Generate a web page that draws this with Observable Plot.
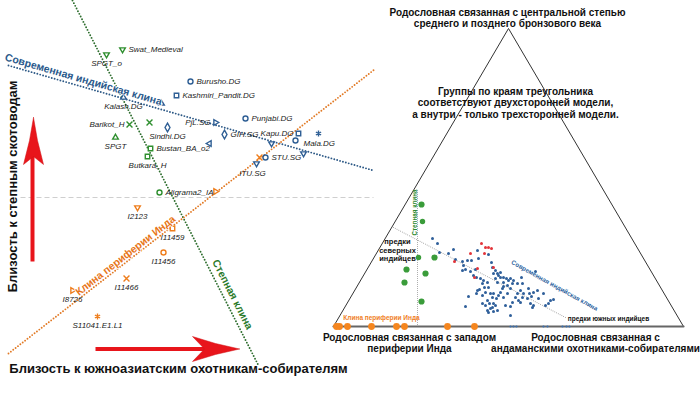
<!DOCTYPE html>
<html><head><meta charset="utf-8">
<script src="https://cdn.jsdelivr.net/npm/d3@7"></script>
<script src="https://cdn.jsdelivr.net/npm/@observablehq/plot@0.6"></script>
<style>body{margin:0;background:#fff}#chart{width:700px;height:393px}</style>
</head><body><div id="chart"></div>
<script>
// ---------- LEFT PANEL: PCA-like projection (figure units) ----------
const leftSamples = [
  {name:"Swat_Medieval", group:"steppe", shape:"triangleDown", x:122, y:49, label:"right"},
  {name:"SPGT_o", group:"steppe", shape:"triangleDown", x:106, y:54, label:"below"},
  {name:"Burusho.DG", group:"indian", shape:"circle", x:190, y:81, label:"right"},
  {name:"Kashmiri_Pandit.DG", group:"indian", shape:"square", x:176, y:95, label:"right"},
  {name:"", group:"indian", shape:"triangle", x:161, y:103, label:"none"},
  {name:"Kalash.DG", group:"indian", shape:"triangle", x:123, y:97, label:"below"},
  {name:"Barikot_H", group:"steppe", shape:"times", x:129, y:124, label:"left"},
  {name:"", group:"steppe", shape:"times", x:149, y:122, label:"none"},
  {name:"Sindhi.DG", group:"indian", shape:"diamond", x:167, y:127, label:"below"},
  {name:"PjL.SG", group:"indian", shape:"triangleRight", x:215, y:122, label:"left"},
  {name:"Punjabi.DG", group:"indian", shape:"circle", x:245, y:118, label:"right"},
  {name:"GIH.SG", group:"indian", shape:"diamond", x:224, y:134, label:"right"},
  {name:"", group:"indian", shape:"triangleLeft", x:209, y:143, label:"none"},
  {name:"SPGT", group:"steppe", shape:"triangle", x:115, y:137, label:"below"},
  {name:"Bustan_BA_o2", group:"steppe", shape:"square", x:150, y:148, label:"right"},
  {name:"Butkara_H", group:"steppe", shape:"square", x:147, y:156, label:"below"},
  {name:"Kapu.DG", group:"indian", shape:"square", x:298, y:133, label:"left"},
  {name:"", group:"indian", shape:"circle", x:295, y:140, label:"none"},
  {name:"Mala.DG", group:"indian", shape:"asterisk", x:318, y:133, label:"belowLeft"},
  {name:"", group:"indian", shape:"triangleDown", x:271, y:143, label:"none"},
  {name:"", group:"indian", shape:"triangleDown", x:303, y:153, label:"none"},
  {name:"", group:"periphery", shape:"times", x:259, y:157, label:"none"},
  {name:"STU.SG", group:"indian", shape:"circle", x:265, y:157, label:"right"},
  {name:"ITU.SG", group:"indian", shape:"triangleDown", x:256, y:163, label:"belowLeft2"},
  {name:"Aligrama2_IA", group:"steppe", shape:"circle", x:159, y:192, label:"right"},
  {name:"", group:"periphery", shape:"triangleRight", x:215, y:191, label:"none"},
  {name:"I2123", group:"periphery", shape:"triangleDown", x:137, y:207, label:"below"},
  {name:"I11459", group:"periphery", shape:"square", x:172, y:228, label:"below"},
  {name:"I11456", group:"periphery", shape:"circle", x:163, y:252, label:"below"},
  {name:"I11466", group:"periphery", shape:"times", x:126, y:278, label:"below"},
  {name:"I8726", group:"periphery", shape:"triangleRight", x:72, y:290, label:"below"},
  {name:"S11041.E1.L1", group:"periphery", shape:"asterisk", x:97, y:316, label:"below"}
];
const steppeCline = [{x:72, y:0}, {x:258, y:365}];
const indianCline = [{x:8, y:65}, {x:373, y:170}];
const peripheryCline = [{x:8, y:353}, {x:374, y:69}];
const zeroLine = [{x:20, y:197}, {x:373, y:197}];
const clineLabels = [
  {text:"Современная индийская клина", group:"indian", x:83, y:79, line:"indian"},
  {text:"Клина периферии Инда", group:"periphery", x:125, y:255, line:"periphery"},
  {text:"Степная клина", group:"steppe", x:232, y:294, line:"steppe"}
];
const axisTitles = [
  {text:"Близость к степным скотоводам", x:12, y:186, rotate:-90},
  {text:"Близость к южноазиатским охотникам-собирателям", x:178, y:368, rotate:0}
];
const arrowShafts = [
  [{x:32, y:261}, {x:32, y:150}],
  [{x:95, y:348.5}, {x:208, y:348.5}]
];
const upHead = [{x:33,y:117},{x:37,y:140},{x:43,y:164},{x:33,y:156},{x:23,y:164},{x:29,y:140},{x:33,y:117}];
const rightHead = [{x:239,y:348.5},{x:215,y:343},{x:192,y:336},{x:204,y:348.5},{x:192,y:361},{x:215,y:354},{x:239,y:348.5}];

// ---------- RIGHT PANEL: ternary admixture plot (figure units) ----------
const triangleCorners = [{x:333, y:326}, {x:508, y:28}, {x:683, y:326}, {x:333, y:326}];
const triangleBase = [{x:333, y:326}, {x:683, y:326}];
const northSouthLine = [{x:393, y:227}, {x:565, y:317}];
const steppeVertical = [{x:417, y:190}, {x:417, y:326}];
const steppeGroups = [
  {x:421, y:204, big:true}, {x:422, y:221, big:false}, {x:418, y:257, big:false},
  {x:434, y:257, big:true}, {x:406, y:269, big:true}, {x:425, y:273, big:true},
  {x:404, y:282, big:true}, {x:421, y:301, big:true}
];
const peripheryGroups = [336, 339, 347, 371, 396, 404, 447, 474];
const baseTicks = [510, 513, 516, 543, 547, 562, 566, 569];
const redGroups = [
  [481,243],[485,247],[488,247],[491,248],[484,253],[470,253],[454,261],[477,268],[493,267],[474,277]
];
const modernIndians = [
  [432,238],[437,243],[439,252],[448,253],[453,249],[455,259],[462,261],[467,260],[463,265],[471,260],
  [477,250],[478,258],[465,269],[470,271],[475,269],[473,275],[476,277],[480,278],[482,283],[483,280],
  [477,290],[476,293],[479,289],[468,296],[465,306],[482,303],[485,305],[487,310],[488,312],[490,308],
  [492,307],[493,303],[495,305],[497,310],[493,311],[489,303],[487,300],[496,298],[498,295],[500,292],
  [502,288],[503,286],[497,282],[495,278],[498,275],[500,272],[497,273],[493,273],[495,270],[492,267],
  [500,277],[503,277],[506,278],[508,280],[510,278],[512,283],[503,282],[507,285],[510,288],[507,293],
  [503,297],[505,305],[510,306],[512,302],[510,315],[515,297],[518,300],[520,302],[522,297],[523,293],
  [520,290],[517,293],[521,277],[522,283],[527,298],[530,303],[532,307],[533,305],[528,288],[529,293],
  [531,296],[533,292],[537,290],[538,298],[543,293],[545,305],[550,300],[553,299],[548,303],[535,271],
  [517,283],[513,280],[482,295],[485,292],[490,293],[492,297],[493,293],[488,287],[484,287],[487,282],
  [462,270],[488,254],[491,262]
];
const rightTexts = [
  {lines:["Родословная связанная с центральной степью","среднего и позднего бронзового века"], x:507, y:12, size:10, color:"#111"},
  {lines:["Группы по краям треугольника","соответствуют двухсторонней модели,","а внутри - только трехсторонней модели."], x:515, y:91, size:10, color:"#111"},
  {lines:["Родословная связанная с западом","периферии Инда"], x:409, y:337, size:10, color:"#111"},
  {lines:["Родословная связанная с","андаманскими охотниками-собирателями"], x:595, y:337, size:10, color:"#111"},
  {lines:["предки","северных","индийцев"], x:397, y:241, size:7.5, color:"#111"},
  {lines:["предки южных индийцев"], x:608, y:318, size:6.5, color:"#111"},
  {lines:["Клина периферии Инда"], x:381, y:317, size:6.5, color:"#f07f1f"}
];
const rightClineLabels = [
  {text:"Степная клина", x:414, y:212, rotate:-90, color:"#2e8a2e"},
  {text:"Современная индийская клина", x:554, y:285, rotate:29, color:"#2f65a0"}
];

// ---------- styling ----------
const colors = {steppe:"#2f8f2f", indian:"#2f5f95", periphery:"#ee7d1c"};
const lineColors = {steppe:"#2e6e2e", indian:"#2d5986", periphery:"#e27a25"};
const textColors = {steppe:"#2a7a2a", indian:"#2b5a8c", periphery:"#e8761a"};
const shapeDefs = {
  circle:{symbol:"circle", rotate:0, r:2.5},
  square:{symbol:"square", rotate:0, r:2.5},
  diamond:{symbol:"diamond", rotate:0, r:2.6},
  triangle:{symbol:"triangle", rotate:0, r:2.1},
  triangleDown:{symbol:"triangle", rotate:180, r:2.1},
  triangleRight:{symbol:"triangle", rotate:90, r:2.1},
  triangleLeft:{symbol:"triangle", rotate:-90, r:2.1},
  times:{symbol:"times", rotate:0, r:2.8},
  asterisk:{symbol:"asterisk", rotate:0, r:2.8}
};
const labelOffsets = {
  right:{dx:6, dy:0, anchor:"start"},
  left:{dx:-5, dy:0, anchor:"end"},
  below:{dx:0, dy:9, anchor:"middle"},
  belowLeft:{dx:-15, dy:10, anchor:"start"},
  belowLeft2:{dx:-4, dy:10, anchor:"middle"}
};
const lines = {steppe:steppeCline, indian:indianCline, periphery:peripheryCline};
function angleOf(l) { return Math.atan2(l[1].y - l[0].y, l[1].x - l[0].x) * 180 / Math.PI; }

const marks = [];
// zero line
marks.push(Plot.line(zeroLine, {x:"x", y:"y", stroke:"#cfcfcf", strokeWidth:1, strokeDasharray:"5 3", strokeLinecap:"butt"}));
// clines (round dots)
for (const g of ["steppe","indian","periphery"]) {
  marks.push(Plot.line(lines[g], {x:"x", y:"y", stroke:lineColors[g], strokeWidth:1.9, strokeDasharray:"0 3", strokeLinecap:"round"}));
}
// samples
for (const [shape, def] of Object.entries(shapeDefs)) {
  const subset = leftSamples.filter(d => d.shape === shape);
  marks.push(Plot.dot(subset, {x:"x", y:"y", symbol:def.symbol, r:def.r, rotate:def.rotate,
    stroke:d => colors[d.group], fill:"white", strokeWidth:1.4}));
}
for (const [pos, off] of Object.entries(labelOffsets)) {
  const subset = leftSamples.filter(d => d.label === pos);
  marks.push(Plot.text(subset, {x:"x", y:"y", text:"name", dx:off.dx, dy:off.dy, textAnchor:off.anchor,
    fontSize:8, fontStyle:"italic", fill:"#222"}));
}
// cline labels
for (const c of clineLabels) {
  marks.push(Plot.text([c], {x:"x", y:"y", text:"text", rotate:angleOf(lines[c.line]), fontSize:10.5,
    fontWeight:"bold", fill:textColors[c.group], stroke:"white", strokeWidth:1.5, paintOrder:"stroke"}));
}
// axis titles
for (const t of axisTitles) {
  marks.push(Plot.text([t], {x:"x", y:"y", text:"text", rotate:t.rotate, fontSize:13, fontWeight:"bold", fill:"#111"}));
}
// red arrows
for (const s of arrowShafts) marks.push(Plot.line(s, {x:"x", y:"y", stroke:"#e8151b", strokeWidth:4, strokeLinecap:"butt"}));
marks.push(Plot.line(upHead, {x:"x", y:"y", fill:"#e8151b", stroke:"#d01015", strokeWidth:0.5}));
marks.push(Plot.line(rightHead, {x:"x", y:"y", fill:"#e8151b", stroke:"#d01015", strokeWidth:0.5}));

// right panel
marks.push(Plot.line(triangleCorners, {x:"x", y:"y", stroke:"#333", strokeWidth:1}));
marks.push(Plot.line(triangleBase, {x:"x", y:"y", stroke:"#666", strokeWidth:2.2}));
marks.push(Plot.line(northSouthLine, {x:"x", y:"y", stroke:"#9a9a9a", strokeWidth:1, strokeDasharray:"0 2", strokeLinecap:"round"}));
marks.push(Plot.line(steppeVertical, {x:"x", y:"y", stroke:"#9a9a9a", strokeWidth:1, strokeDasharray:"0 2", strokeLinecap:"round"}));
marks.push(Plot.dot(baseTicks, {x:d => d, y:() => 326, r:1.1, fill:"#3b6fae"}));
marks.push(Plot.dot(modernIndians, {x:d => d[0], y:d => d[1], r:1.5, fill:"#2f5f9a"}));
marks.push(Plot.dot(redGroups, {x:d => d[0], y:d => d[1], r:1.5, fill:"#e3343a"}));
marks.push(Plot.dot(steppeGroups, {x:"x", y:"y", r:d => d.big ? 3.4 : 2.6, fill:"#3a9c3a"}));
marks.push(Plot.dot(peripheryGroups, {x:d => d, y:() => 326, r:3.4, fill:"#f5861f"}));
for (const t of rightTexts) {
  const rows = t.lines.map((s, i) => ({s, i}));
  marks.push(Plot.text(rows, {x:() => t.x, y:d => t.y + d.i * t.size * 1.17, text:"s", fontSize:t.size,
    fontWeight:"bold", fill:t.color}));
}
for (const c of rightClineLabels) {
  marks.push(Plot.text([c], {x:"x", y:"y", text:"text", rotate:c.rotate, fontSize:6.3, fontWeight:"bold", fill:c.color}));
}

const chart = Plot.plot({
  width:700, height:393, margin:0,
  x:{domain:[0,700], range:[0,700], axis:null},
  y:{domain:[0,393], range:[0,393], axis:null},
  style:{fontFamily:"'Liberation Sans', Arial, sans-serif", background:"white", overflow:"visible"},
  marks
});
document.getElementById("chart").appendChild(chart);
</script></body></html>
